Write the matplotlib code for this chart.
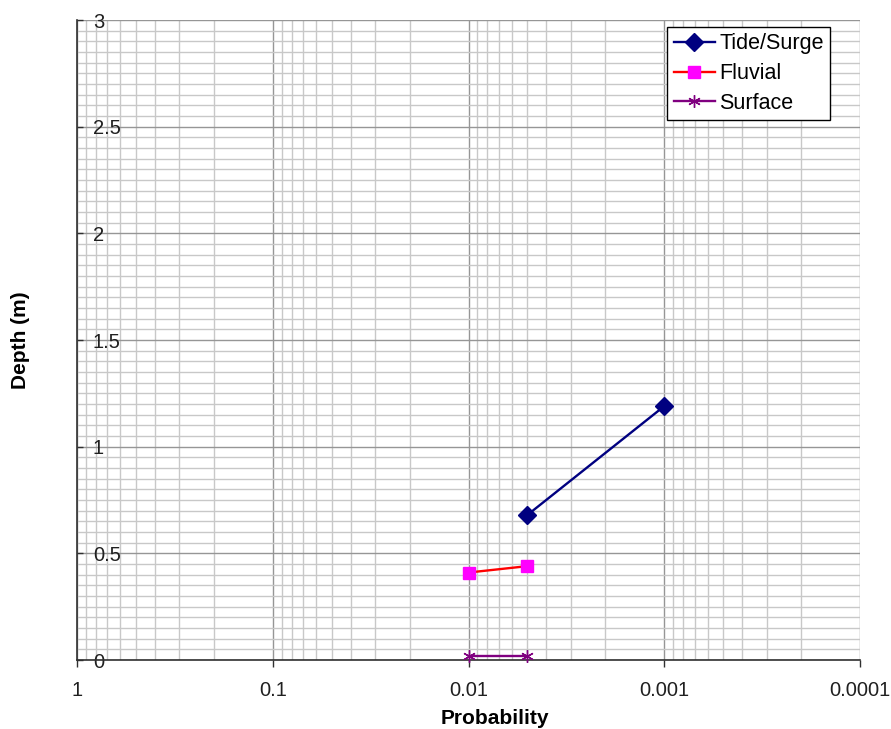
import matplotlib
matplotlib.use("Agg")
import matplotlib.pyplot as plt
import numpy as np
from matplotlib.ticker import FixedLocator, NullFormatter

plt.rcParams['font.family'] = ['Liberation Sans', 'DejaVu Sans']

# Annual exceedance probability vs flood depth for each source
prob_tide = [0.005, 0.001]
depth_tide = [0.68, 1.19]
prob_fluvial = [0.01, 0.005]
depth_fluvial = [0.41, 0.44]
prob_surface = [0.01, 0.005]
depth_surface = [0.02, 0.02]

series_names = ["Tide/Surge", "Fluvial", "Surface"]
x_tick_values = [1, 0.1, 0.01, 0.001, 0.0001]
x_tick_labels = ["1", "0.1", "0.01", "0.001", "0.0001"]
y_tick_values = [0, 0.5, 1, 1.5, 2, 2.5, 3]
y_tick_labels = ["0", "0.5", "1", "1.5", "2", "2.5", "3"]

W, H = 891, 729
fig = plt.figure(figsize=(W / 100, H / 100), dpi=100)
left, right, top, bottom = 77, 860, 20, 660
ax = fig.add_axes([left / W, (H - bottom) / H, (right - left) / W, (bottom - top) / H])

ax.set_xscale('log')
ax.set_xlim(1, 1e-4)
ax.set_ylim(0, 3)

# grid
minor_x = [m * 10.0 ** e for e in range(-4, 0) for m in range(2, 10)]
ax.xaxis.set_major_locator(FixedLocator(x_tick_values))
ax.xaxis.set_minor_locator(FixedLocator(minor_x))
ax.xaxis.set_minor_formatter(NullFormatter())
ax.set_xticklabels(x_tick_labels)
ax.yaxis.set_major_locator(FixedLocator(y_tick_values))
ax.yaxis.set_minor_locator(FixedLocator(np.arange(0, 3.001, 0.05)))
ax.set_yticklabels(y_tick_labels)

ax.grid(which='minor', color='#c8c8c8', linewidth=1.0, zorder=0)
ax.grid(which='major', color='#969696', linewidth=1.0, zorder=0)
ax.set_axisbelow(True)

for s in ['top', 'right']:
    ax.spines[s].set_visible(False)
for s in ['left', 'bottom']:
    ax.spines[s].set_color('#303030')
    ax.spines[s].set_linewidth(1.2)

ax.tick_params(axis='x', which='major', direction='out', length=5, width=1,
               color='#303030', labelsize=14.5, pad=10, labelcolor='#202020')
ax.tick_params(axis='y', which='major', direction='in', length=4, width=1,
               color='#303030', labelsize=14.5, pad=-11.5, labelcolor='#202020')
ax.tick_params(which='minor', length=0)
for lbl in ax.get_yticklabels():
    lbl.set_horizontalalignment('left')

ax.plot(prob_tide, depth_tide, color='#000080', linewidth=1.7, marker='D',
        markersize=9, markerfacecolor='#000080', markeredgecolor='#000080',
        label=series_names[0], zorder=3, clip_on=False)
ax.plot(prob_fluvial, depth_fluvial, color='#ff0000', linewidth=1.7, marker='s',
        markersize=9, markerfacecolor='#ff00ff', markeredgecolor='#ff00ff',
        label=series_names[1], zorder=3, clip_on=False)
ax.plot(prob_surface, depth_surface, color='#800080', linewidth=1.7, marker=(6, 2, 0),
        markersize=9, markerfacecolor='#800080', markeredgecolor='#800080',
        markeredgewidth=1.0, label=series_names[2], zorder=3, clip_on=False)

leg = ax.legend(loc='upper right', bbox_to_anchor=(830 / W, (H - 27) / H),
                bbox_transform=fig.transFigure, fontsize=15.5, frameon=True,
                fancybox=False, shadow=False, borderaxespad=0, borderpad=0.3,
                handlelength=1.9, handletextpad=0.2, labelspacing=0.4)
leg.get_frame().set_edgecolor('black')
leg.get_frame().set_linewidth(1.0)
leg.get_frame().set_facecolor('white')
leg.get_frame().set_alpha(1)

fig.text(495 / W, (H - 718) / H, "Probability", ha='center', va='center',
         fontsize=15, fontweight='bold')
fig.text(21 / W, (H - 340) / H, "Depth (m)", ha='center', va='center',
         rotation=90, fontsize=15, fontweight='bold')

fig.savefig("out.png", dpi=100, facecolor='white')
